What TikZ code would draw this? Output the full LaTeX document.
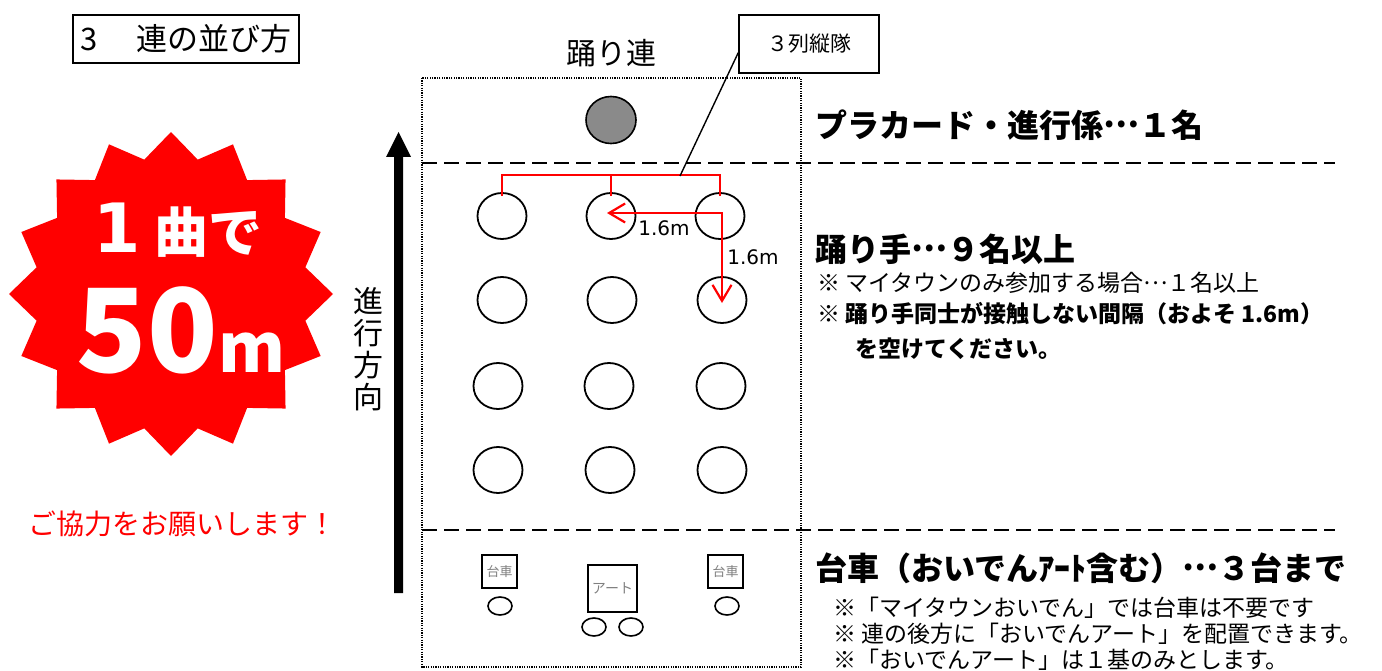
\documentclass[tikz,border=0pt]{standalone}
\usepackage{fontspec}
\setmainfont{Noto Sans CJK JP}
\newfontfamily\dvs{DejaVu Sans}
\usetikzlibrary{arrows.meta,shapes.geometric}
\newcommand\myfs[1]{\fontsize{#1}{#1}\selectfont}
\newcommand\fwdots{\raisebox{0.3em}{…}}
\definecolor{pred}{RGB}{255,0,0}
\definecolor{cartgray}{RGB}{128,128,128}
\definecolor{plgray}{RGB}{138,138,138}
\tikzset{barbtip/.tip={Straight Barb[length=16pt,width=19pt,line width=2.2pt]}}
\begin{document}
\begin{tikzpicture}[x=1pt,y=-1pt,
  dancer/.style={draw, ellipse, line width=1.8pt, minimum width=49pt, minimum height=46pt, inner sep=0pt},
  wheel/.style={draw, ellipse, line width=1.6pt, minimum width=24pt, minimum height=18pt, inner sep=0pt},
  cart/.style={draw, line width=1.6pt, inner sep=0pt, text=cartgray},
  redline/.style={draw=pred, line width=2.2pt},
  dashline/.style={line width=2pt, dash pattern=on 15pt off 7pt},
  dotline/.style={line width=1.2pt, dash pattern=on 1.2pt off 1.2pt},
  rtext/.style={anchor=west, inner sep=0pt}
]
\useasboundingbox (0,0) rectangle (1382,671);
\fill[white] (0,0) rectangle (1382,671);

% title
\node[draw, line width=1.6pt, minimum width=226pt, minimum height=48pt, inner sep=0pt] (title) at (186,39)
  {\myfs{31}3\hspace{38pt}連の並び方};

% starburst
\fill[pred, shift={(171,294)}] (90:162)
  \foreach \i in {1,...,31} { -- ({90+\i*11.25}:{149.5+12.5*cos(\i*180)}) } -- cycle;
\node[anchor=base, inner sep=0pt, text=white] (one) at (117,253) {\dvs\bfseries\myfs{68}1};
\node[anchor=base west, inner sep=0pt, text=white] (kyoku) at (154,253) {\bfseries\myfs{54}曲で};
\node[anchor=base, inner sep=0pt, text=white] (fifty) at (181,372)
  {\bfseries{\myfs{116}50}{\myfs{68}m}};

\node[anchor=west, inner sep=0pt, text=pred] (thanks) at (28,524) {\myfs{28}ご協力をお願いします！};

% direction arrow
\fill (394,593) -- (394,157) -- (386,157) -- (398.5,132) -- (411,157) -- (403,157) -- (403,593) -- cycle;
\node[align=center, inner sep=0pt, font=\fontsize{30}{32}\selectfont] (dir) at (368,349)
  {進\\行\\方\\向};

% group frame
\node[inner sep=0pt] (grp) at (611,53) {\myfs{30}踊り連};
\draw[dotline] (422,78) rectangle (801,667);
\draw[dashline] (422,163) -- (1335,163);
\draw[dashline] (422,530) -- (1335,530);

% placard
\node[draw, ellipse, line width=1.6pt, fill=plgray, minimum width=50pt, minimum height=47pt] (plac) at (611,120) {};

% dancers
\node[dancer] (d11) at (502,216) {};
\node[dancer] (d12) at (611,216) {};
\node[dancer] (d13) at (720,216) {};
\node[dancer] (d21) at (502,300) {};
\node[dancer] (d22) at (612,300) {};
\node[dancer] (d23) at (722,300) {};
\node[dancer] (d31) at (498,386) {};
\node[dancer] (d32) at (609,386) {};
\node[dancer] (d33) at (721,386) {};
\node[dancer] (d41) at (498,470) {};
\node[dancer] (d42) at (610,470) {};
\node[dancer] (d43) at (722,470) {};

% bracket
\draw[redline] ([yshift=-4pt]d11.north) -- ++(0,-21) -| ([yshift=-4pt]d13.north);
\draw[redline] ([yshift=-4pt]d12.north) -- ++(0,-21);
\coordinate (brk) at (680,176);

% label box
\node[draw, line width=1.5pt, minimum width=140pt, minimum height=58pt, inner sep=0pt] (lbl) at (809,44) {\myfs{21}３列縦隊};
\draw[line width=1.4pt] (lbl.187) -- (brk);

% spacing arrows
\coordinate (tipL) at (607,213);
\coordinate (crn) at (722,213);
\coordinate (tipD) at (722,303);
\draw[redline, barbtip-barbtip] (tipL) -- (crn) -- (tipD);
\node[inner sep=0pt] (m1) at (664,228) {\dvs\myfs{20}1.6m};
\node[inner sep=0pt] (m2) at (753,257) {\dvs\myfs{20}1.6m};

% carts
\node[cart, minimum width=35pt, minimum height=33pt] (cL) at (499.5,571.5) {\myfs{13}台車};
\node[cart, minimum width=49pt, minimum height=47pt] (art) at (612.5,588.5) {\myfs{14}アート};
\node[cart, minimum width=35pt, minimum height=33pt] (cR) at (725.5,571.5) {\myfs{13}台車};
\node[wheel] (w1) at (500,606) {};
\node[wheel] (w2) at (594,627) {};
\node[wheel] (w3) at (631,627) {};
\node[wheel] (w4) at (727,606) {};

% right texts
\node[rtext] (t1) at (815,125) {\bfseries\myfs{32}プラカード・進行係\fwdots １名};
\node[rtext] (t2) at (815,249) {\bfseries\myfs{32}踊り手\fwdots ９名以上};
\node[rtext] (t3) at (817,283) {\myfs{23}※ マイタウンのみ参加する場合\fwdots １名以上};
\node[rtext] (t4) at (817,314) {\bfseries\myfs{23}※ 踊り手同士が接触しない間隔（およそ 1.6m）};
\node[rtext] (t5) at (855,349) {\bfseries\myfs{23}を空けてください。};
\node[rtext] (t6) at (815,568) {\bfseries\myfs{32}台車（おいでんｱｰﾄ含む）\fwdots ３台まで};
\node[rtext] (t7) at (833,608) {\myfs{23}※「マイタウンおいでん」では台車は不要です};
\node[rtext] (t8) at (833,634) {\myfs{23}※ 連の後方に「おいでんアート」を配置できます。};
\node[rtext] (t9) at (833,660) {\myfs{23}※「おいでんアート」は１基のみとします。};
\end{tikzpicture}
\end{document}
